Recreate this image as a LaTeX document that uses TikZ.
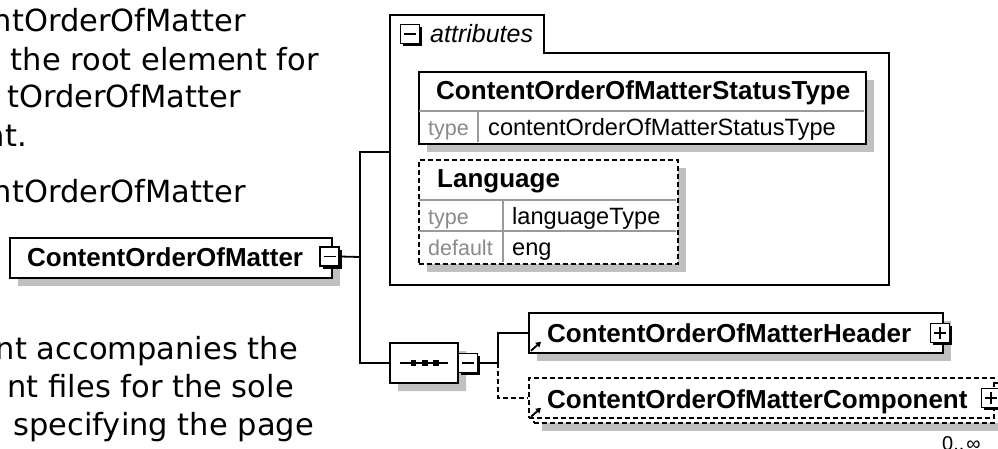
\documentclass[tikz,border=0pt]{standalone}
\usepackage{fontspec}
\setmainfont{Liberation Sans}
\newfontfamily\verd{DejaVuSans.ttf}
\usetikzlibrary{shadows,shapes.misc,arrows.meta}
\definecolor{shadowgray}{HTML}{C0C0C0}
\definecolor{labelgray}{HTML}{8A8A8A}
\definecolor{divgray}{HTML}{9A9A9A}
\begin{document}
\begin{tikzpicture}[x=1pt,y=-1pt,
  lw/.style={line width=1.8pt},
  conn/.style={line width=1.8pt},
  shad/.style={drop shadow={shadow xshift=8pt, shadow yshift=-8pt, fill=shadowgray, opacity=1}},
  elbox/.style={draw, lw, fill=white, inner sep=0, anchor=north west},
  dashbox/.style={elbox, dash pattern=on 5pt off 3pt},
  expbox/.style={draw, line width=1.5pt, fill=white, minimum size=19pt, inner sep=0,
     drop shadow={shadow xshift=2.5pt, shadow yshift=-2.5pt, fill=black, opacity=1}},
  sign/.style={line width=1.5pt},
  divl/.style={line width=1.6pt, draw=divgray},
  bt/.style={font=\fontsize{26}{30}\selectfont\bfseries, inner sep=0, anchor=base west},
  rt/.style={font=\fontsize{23.6}{28}\selectfont, inner sep=0, anchor=base west},
  lt/.style={font=\fontsize{21.5}{26}\selectfont, text=labelgray, inner sep=0, anchor=base west},
  vt/.style={font=\verd\fontsize{30.5}{35}\selectfont, inner sep=0, anchor=base east},
  icon/.style={line width=1.8pt, -{Triangle[length=5pt,width=6pt]}}
]
\useasboundingbox (0,0) rectangle (998,449);
\clip (0,0) rectangle (998,449);

% left text
\node[vt] (l1) at (246,32) {ntOrderOfMatter};
\node[vt] (l2) at (319,71) {the root element for};
\node[vt] (l3) at (241,108) {tOrderOfMatter};
\node[vt] (l4) at (27,147) {nt.};
\node[vt] (l5) at (246,203) {ntOrderOfMatter};
\node[vt] (l6) at (298,359) {nt accompanies the};
\node[vt] (l7) at (294,397) {nt files for the sole};
\node[vt] (l8) at (314,435) {specifying the page};

% main element
\node[elbox, shad, minimum width=322pt, minimum height=40pt] (main) at (9,237) {};
\node[bt] (maint) at (27,266) {ContentOrderOfMatter};
\node[expbox] (mainexp) at (329.5,256.5) {};
\draw[sign] ([xshift=-6pt]mainexp.center) -- ([xshift=6pt]mainexp.center);

% attributes container
\draw[lw, fill=white] (390,285) -- (390,15) -- (544,15) -- (544,53) -- (889,53) -- (889,285) -- cycle;
\coordinate (attrL) at (390,152);
\node[expbox] (attrexp) at (410,34) {};
\draw[sign] ([xshift=-6pt]attrexp.center) -- ([xshift=6pt]attrexp.center);
\node[font=\fontsize{25}{30}\selectfont\itshape, inner sep=0, anchor=base west] (attrt) at (430,43) {attributes};

% attribute 1
\node[elbox, shad, minimum width=447pt, minimum height=72pt] (a1) at (418,71) {};
\draw[divl] (419,111) -- (864,111);
\draw[divl] (478,111) -- (478,142);
\node[bt] (a1t) at (436,100) {ContentOrderOfMatterStatusType};
\node[lt] (a1k) at (428,136) {type};
\node[rt] (a1v) at (488,136) {contentOrderOfMatterStatusType};

% attribute 2
\node[dashbox, shad, minimum width=259pt, minimum height=104pt] (a2) at (418,159) {};
\draw[divl] (419,200) -- (676,200);
\draw[divl] (419,231) -- (676,231);
\draw[divl] (503,200) -- (503,262);
\node[bt] (a2t) at (437,188) {Language};
\node[lt] (a2k1) at (428,224) {type};
\node[rt] (a2v1) at (512,224) {languageType};
\node[lt] (a2k2) at (428,255) {default};
\node[rt] (a2v2) at (512,255) {eng};

% sequence compositor
\node[chamfered rectangle, chamfered rectangle xsep=10pt, chamfered rectangle ysep=10pt,
      draw, line width=1.5pt, fill=white, shad, minimum width=68pt, minimum height=40pt, inner sep=0] (seq) at (424,363) {};
\draw[line width=1.5pt] ([xshift=-24pt]seq.center) -- ([xshift=24pt]seq.center);
\foreach \dx in {-10.5,1,12} \fill ([xshift=\dx pt]seq.center) +(-2.8,-2.8) rectangle +(2.8,2.8);
\node[expbox] (seqexp) at (468,363) {};
\draw[sign] ([xshift=-6pt]seqexp.center) -- ([xshift=6pt]seqexp.center);

% header element
\node[elbox, shad, minimum width=414pt, minimum height=40pt] (hdr) at (528,312) {};
\draw[icon] ([xshift=3pt,yshift=3pt]hdr.south west) -- ([xshift=13pt,yshift=12pt]hdr.south west);
\node[bt] (hdrt) at (547,342) {ContentOrderOfMatterHeader};
\node[expbox] (hdrexp) at (940,333) {};
\draw[sign] ([xshift=-6pt]hdrexp.center) -- ([xshift=6pt]hdrexp.center);
\draw[sign] ([yshift=-6pt]hdrexp.center) -- ([yshift=6pt]hdrexp.center);

% component element (multiple)
\node[dashbox, shad, minimum width=465pt, minimum height=40pt] (cmpb) at (533,382) {};
\node[dashbox, minimum width=465pt, minimum height=40pt] (cmp) at (528,377) {};
\draw[icon] ([xshift=3pt,yshift=2pt]cmp.south west) -- ([xshift=13pt,yshift=11pt]cmp.south west);
\node[bt] (cmpt) at (547,408) {ContentOrderOfMatterComponent};
\node[expbox] (cmpexp) at (991,398) {};
\draw[sign] ([xshift=-6pt]cmpexp.center) -- ([xshift=6pt]cmpexp.center);
\draw[sign] ([yshift=-6pt]cmpexp.center) -- ([yshift=6pt]cmpexp.center);
\node[font=\fontsize{20}{24}\selectfont, inner sep=0, anchor=base west] (occ) at (942,450) {0..\hspace{2pt}∞};

% connectors
\coordinate (j1) at (360,257);
\coordinate (j2) at (498,363);
\draw[conn] (mainexp.east) -- (j1);
\draw[conn] (attrL) -- (attrL -| j1) -- (seq.west -| j1) -- (seq.west);
\draw[conn] (seqexp.east) -- (j2);
\draw[conn] (j2) |- (hdr.west);
\draw[conn, dash pattern=on 5pt off 3pt] (j2) |- (cmp.west);
\end{tikzpicture}
\end{document}
